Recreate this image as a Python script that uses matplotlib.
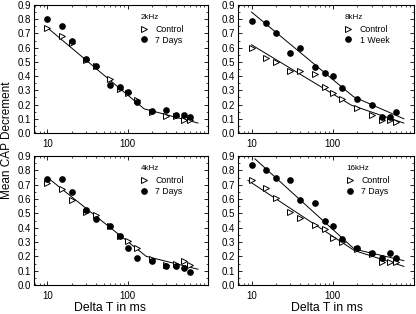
import numpy as np
import matplotlib
matplotlib.use('Agg')
import matplotlib.pyplot as plt
import matplotlib.ticker as ticks

plt.rcParams['font.family'] = ['Liberation Sans', 'DejaVu Sans']

# delay times (ms)
dt = [10, 15, 20, 30, 40, 60, 80, 100, 130, 200, 300, 400, 500, 600]

# 2 kHz
ctl_2k = [0.74, 0.68, 0.63, 0.51, 0.47, 0.38, 0.31, 0.28, 0.23, 0.15, 0.12, 0.12, 0.09, 0.09]
trt_2k = [0.80, 0.75, 0.645, 0.52, 0.47, 0.34, 0.32, 0.29, 0.22, 0.155, 0.16, 0.125, 0.13, 0.115]
fit_2k_x = [10, 160, 750]
fit_2k_y = [0.74, 0.17, 0.07]

# 8 kHz
ctl_8k = [0.60, 0.53, 0.50, 0.435, 0.435, 0.415, 0.325, 0.28, 0.24, 0.175, 0.125, 0.09, 0.09, 0.08]
trt_8k = [0.79, 0.775, 0.705, 0.56, 0.60, 0.465, 0.42, 0.40, 0.315, 0.24, 0.20, 0.11, 0.11, 0.15]
fit_8k_ctl_x = [10, 170, 750]
fit_8k_ctl_y = [0.62, 0.195, 0.07]
fit_8k_trt_x = [10, 180, 750]
fit_8k_trt_y = [0.85, 0.255, 0.10]

# 4 kHz
ctl_4k = [0.71, 0.67, 0.595, 0.51, 0.49, 0.41, 0.34, 0.31, 0.26, 0.18, 0.14, 0.15, 0.165, 0.14]
trt_4k = [0.74, 0.74, 0.65, 0.52, 0.46, 0.41, 0.34, 0.255, 0.19, 0.17, 0.135, 0.13, 0.12, 0.09]
fit_4k_x = [10, 170, 750]
fit_4k_y = [0.75, 0.20, 0.11]

# 16 kHz
ctl_16k = [0.73, 0.675, 0.605, 0.51, 0.47, 0.42, 0.39, 0.33, 0.30, 0.25, 0.215, 0.16, 0.16, 0.16]
trt_16k = [0.84, 0.80, 0.745, 0.73, 0.595, 0.57, 0.45, 0.41, 0.32, 0.255, 0.22, 0.19, 0.225, 0.19]
fit_16k_ctl_x = [9, 185, 750]
fit_16k_ctl_y = [0.73, 0.24, 0.13]
fit_16k_trt_x = [11, 185, 750]
fit_16k_trt_y = [0.88, 0.25, 0.17]

panels = [
    ('2kHz', '7 Days', ctl_2k, trt_2k, [(fit_2k_x, fit_2k_y)]),
    ('8kHz', '1 Week', ctl_8k, trt_8k, [(fit_8k_ctl_x, fit_8k_ctl_y), (fit_8k_trt_x, fit_8k_trt_y)]),
    ('4kHz', '7 Days', ctl_4k, trt_4k, [(fit_4k_x, fit_4k_y)]),
    ('16kHz', '7 Days', ctl_16k, trt_16k, [(fit_16k_ctl_x, fit_16k_ctl_y), (fit_16k_trt_x, fit_16k_trt_y)]),
]

W, H = 416, 314
fig = plt.figure(figsize=(W / 100, H / 100), dpi=100)
boxes = [(34, 208, 5, 133), (238, 414, 5, 133), (34, 208, 156, 285), (238, 414, 156, 285)]

for (name, lab, ctl, trt, fits), (x0, x1, y0, y1) in zip(panels, boxes):
    ax = fig.add_axes([x0 / W, 1 - y1 / H, (x1 - x0) / W, (y1 - y0) / H])
    for fx, fy in fits:
        ax.plot(fx, fy, color='black', lw=0.7)
    ax.plot(dt, ctl, linestyle='none', marker='>', ms=3.8, mfc='white', mec='black', mew=0.7, label='Control')
    ax.plot(dt, trt, linestyle='none', marker='o', ms=3.8, color='black', label=lab)
    ax.set_xscale('log')
    ax.set_xlim(6.8, 1000)
    ax.set_ylim(0, 0.9)
    ax.set_yticks(np.arange(0, 0.91, 0.1))
    ax.yaxis.set_major_formatter(ticks.FormatStrFormatter('%.1f'))
    ax.yaxis.set_minor_locator(ticks.MultipleLocator(0.05))
    ax.set_xticks([10, 100])
    ax.set_xticklabels(['10', '100'])
    ax.tick_params(which='both', direction='in', top=True, right=True, labelsize=7)
    ax.tick_params(axis='y', pad=2)
    ax.tick_params(axis='x', pad=4)
    ax.tick_params(which='major', length=3, width=0.6)
    ax.tick_params(which='minor', length=1.6, width=0.5)
    for s in ax.spines.values():
        s.set_linewidth(0.8)
    leg = ax.legend(title=name, loc='upper right', bbox_to_anchor=(0.88, 0.96), frameon=False,
                    fontsize=6.3, title_fontsize=5.8, handlelength=0.8, handletextpad=0.9,
                    labelspacing=0.2, borderaxespad=0)
    leg._legend_box.align = 'left'
    leg._legend_box.sep = 3

fig.text(0.016, 1 - 140 / H, 'Mean CAP Decrement', rotation=90, ha='center', va='center', fontsize=8.5)
fig.text(110 / W, 1 - 308 / H, 'Delta T in ms', ha='center', va='center', fontsize=8.8)
fig.text(327 / W, 1 - 308 / H, 'Delta T in ms', ha='center', va='center', fontsize=8.8)

fig.savefig('out.png', dpi=100)
